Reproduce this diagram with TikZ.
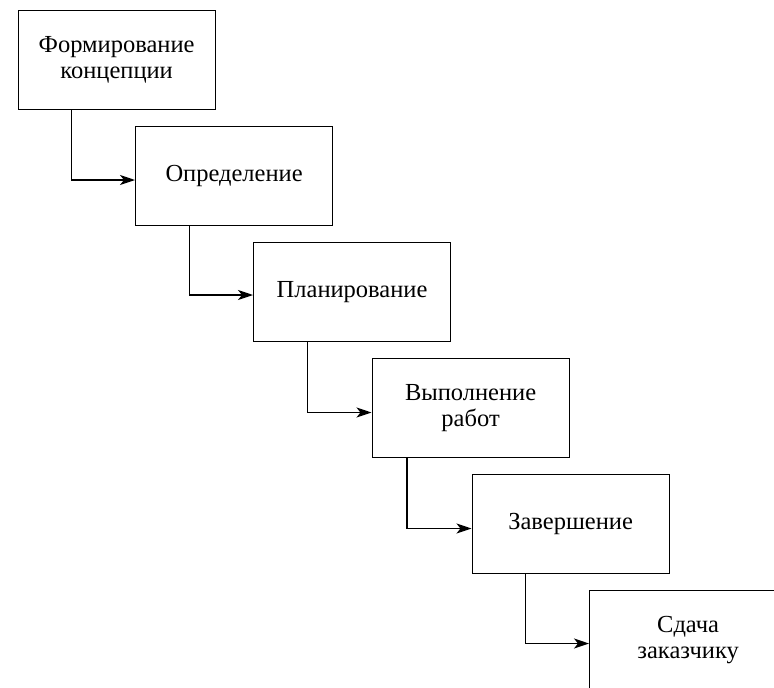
\documentclass[tikz,border=0pt]{standalone}
\usepackage{fontspec}
\setmainfont{Liberation Serif}
\newfontfamily\labelfont{Liberation Serif}
\usetikzlibrary{arrows.meta,calc}

\tikzset{
  phase/.style={draw, line width=1.2pt, rectangle, anchor=north west,
    minimum width=197pt, minimum height=98.5pt, inner sep=0pt,
    align=center, font=\labelfont\fontsize{24.5}{26.5}\selectfont},
  flow/.style={line width=1.2pt, -{Stealth[length=15pt,width=10pt,inset=4pt]}}
}

\begin{document}
\begin{tikzpicture}[x=1pt, y=-1pt]
  \useasboundingbox (0,0) rectangle (774,688);
  \clip (0,0) rectangle (774,688);

  % project phases, stepping down to the right
  \node[phase] (b1) at (17.5,10)  {Формирование\\концепции};
  \node[phase] (b2) at (135,126)  {Определение};
  \node[phase] (b3) at (253,242)  {Планирование};
  \node[phase] (b4) at (371.5,358) {Выполнение\\работ};
  \node[phase] (b5) at (471.5,474) {Завершение};
  \node[phase] (b6) at (589,590)  {Сдача\\заказчику};

  % elbow connectors from each phase to the next
  \draw[flow] ($(b1.south west)+(54pt,0)$) |- ($(b2.north west)+(0,-54pt)$);
  \draw[flow] ($(b2.south west)+(54.5pt,0)$) |- ($(b3.north west)+(0,-53pt)$);
  \draw[flow] ($(b3.south west)+(54.5pt,0)$) |- ($(b4.north west)+(0,-54.5pt)$);
  \draw[flow] ($(b4.south west)+(35.5pt,0)$) |- ($(b5.north west)+(0,-54.5pt)$);
  \draw[flow] ($(b5.south west)+(54pt,0)$) |- ($(b6.north west)+(0,-53.5pt)$);
\end{tikzpicture}
\end{document}
